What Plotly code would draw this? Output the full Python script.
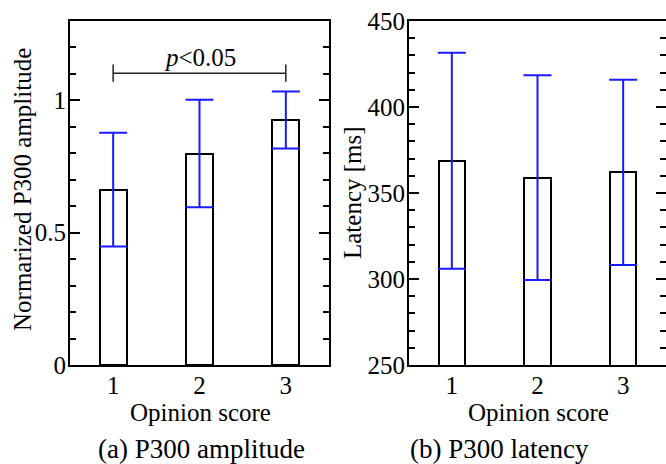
import plotly.graph_objects as go

# ---- data ----
opinion_scores = [1, 2, 3]
amp_mean = [0.663, 0.799, 0.926]
amp_err = [0.215, 0.203, 0.108]
lat_mean = [368.8, 358.9, 362.0]
lat_err = [62.8, 59.5, 53.8]
amp_ticks = [0, 0.5, 1]
amp_ticktext = ["0", "0.5", "1"]
lat_ticks = [250, 300, 350, 400, 450]
sig_pair = [1, 3]
sig_level = 1.103
sig_cap = [1.07, 1.136]
sig_text = "<i>p</i>&lt;0.05"

FONT = "Liberation Serif"
BLUE = "#1a1aff"

fig = go.Figure()

def bar(x, y, err, xa, ya):
    return go.Bar(
        x=x, y=y, xaxis=xa, yaxis=ya, width=0.31,
        marker=dict(color="white", line=dict(color="black", width=2)),
        error_y=dict(type="data", array=err, visible=True, color=BLUE,
                     thickness=2, width=14),
        showlegend=False, hoverinfo="skip",
    )

fig.add_trace(bar(opinion_scores, amp_mean, amp_err, "x", "y"))
fig.add_trace(bar(opinion_scores, lat_mean, lat_err, "x2", "y2"))

# significance bracket
bx = [sig_pair[0], sig_pair[0], None, sig_pair[0], sig_pair[1], None, sig_pair[1], sig_pair[1]]
by = [sig_cap[0], sig_cap[1], None, sig_level, sig_level, None, sig_cap[0], sig_cap[1]]
fig.add_trace(go.Scatter(x=bx, y=by, mode="lines", line=dict(color="#222", width=1.5),
                         xaxis="x", yaxis="y", showlegend=False, hoverinfo="skip"))

# invisible trace for right-side tick axis
fig.add_trace(go.Scatter(x=[None], y=[None], xaxis="x2", yaxis="y3",
                         showlegend=False, hoverinfo="skip"))

tickfont = dict(family=FONT, size=25, color="black")
xcommon = dict(range=[0.5, 3.5], tickvals=opinion_scores, ticks="",
               showline=True, mirror=True, linecolor="black", linewidth=2,
               showgrid=False, zeroline=False, tickfont=tickfont, fixedrange=True,
               automargin=False, ticklabelstandoff=-3)

ydom = [1 - 365 / 464, 1 - 21 / 464]
fig.update_layout(
    width=666, height=464,
    margin=dict(l=0, r=0, t=0, b=0, autoexpand=False),
    paper_bgcolor="white", plot_bgcolor="white",
    font=dict(family=FONT, size=25, color="black"),
    xaxis=dict(domain=[70 / 666, 329 / 666], anchor="y", **xcommon),
    xaxis2=dict(domain=[409 / 666, 1.0], anchor="y2", **xcommon),
    yaxis=dict(domain=ydom, anchor="x", range=[0, 1.3], tickvals=amp_ticks,
               ticktext=amp_ticktext, ticks="inside", ticklen=10, tickwidth=2,
               tickcolor="black", mirror="ticks", showline=True, linecolor="black",
               linewidth=2, showgrid=False, zeroline=False, tickfont=tickfont,
               automargin=False, ticklabelstandoff=-3,
               minor=dict(dtick=0.1, ticks="inside", ticklen=6, tickwidth=1.5,
                          tickcolor="black", showgrid=False)),
    yaxis2=dict(domain=ydom, anchor="x2", range=[250, 450], tickvals=lat_ticks,
                ticks="inside", ticklen=10, tickwidth=2, tickcolor="black",
                showline=True, linecolor="black", linewidth=2, showgrid=False,
                zeroline=False, tickfont=tickfont, automargin=False,
                ticklabelstandoff=-3,
                minor=dict(dtick=10, ticks="inside", ticklen=6, tickwidth=1.5,
                           tickcolor="black", showgrid=False)),
    yaxis3=dict(overlaying="y2", anchor="x2", side="right", range=[250, 450],
                tickvals=lat_ticks, ticks="inside", ticklen=10, tickwidth=2,
                tickcolor="black", showticklabels=False, showline=False,
                showgrid=False, zeroline=False, automargin=False,
                minor=dict(dtick=10, ticks="inside", ticklen=6, tickwidth=1.5,
                           tickcolor="black", showgrid=False)),
    bargap=0,
)

def A(**kw):
    d = dict(showarrow=False, xanchor="center", yanchor="middle",
             font=dict(family=FONT, size=25, color="black"))
    d.update(kw)
    return d

ann = []
ann.append(A(x=2, y=sig_level, xref="x", yref="y", text=sig_text, yanchor="bottom"))
ann.append(A(x=22 / 666, y=1 - 190 / 464, xref="paper", yref="paper",
             text="Normarized P300 amplitude", textangle=-90))
ann.append(A(x=352 / 666, y=1 - 193 / 464, xref="paper", yref="paper",
             text="Latency [ms]", textangle=-90))
for cx, lbl in [(200, "Opinion score"), (538.5, "Opinion score")]:
    ann.append(A(x=cx / 666, y=1 - 412 / 464, xref="paper", yref="paper", text=lbl))
for cx, lbl in [(201, "(a) P300 amplitude"), (499, "(b) P300 latency")]:
    ann.append(A(x=cx / 666, y=1 - 449 / 464, xref="paper", yref="paper", text=lbl,
                 font=dict(family=FONT, size=27, color="black")))
fig.update_layout(annotations=ann)

fig.write_html("out.html")
